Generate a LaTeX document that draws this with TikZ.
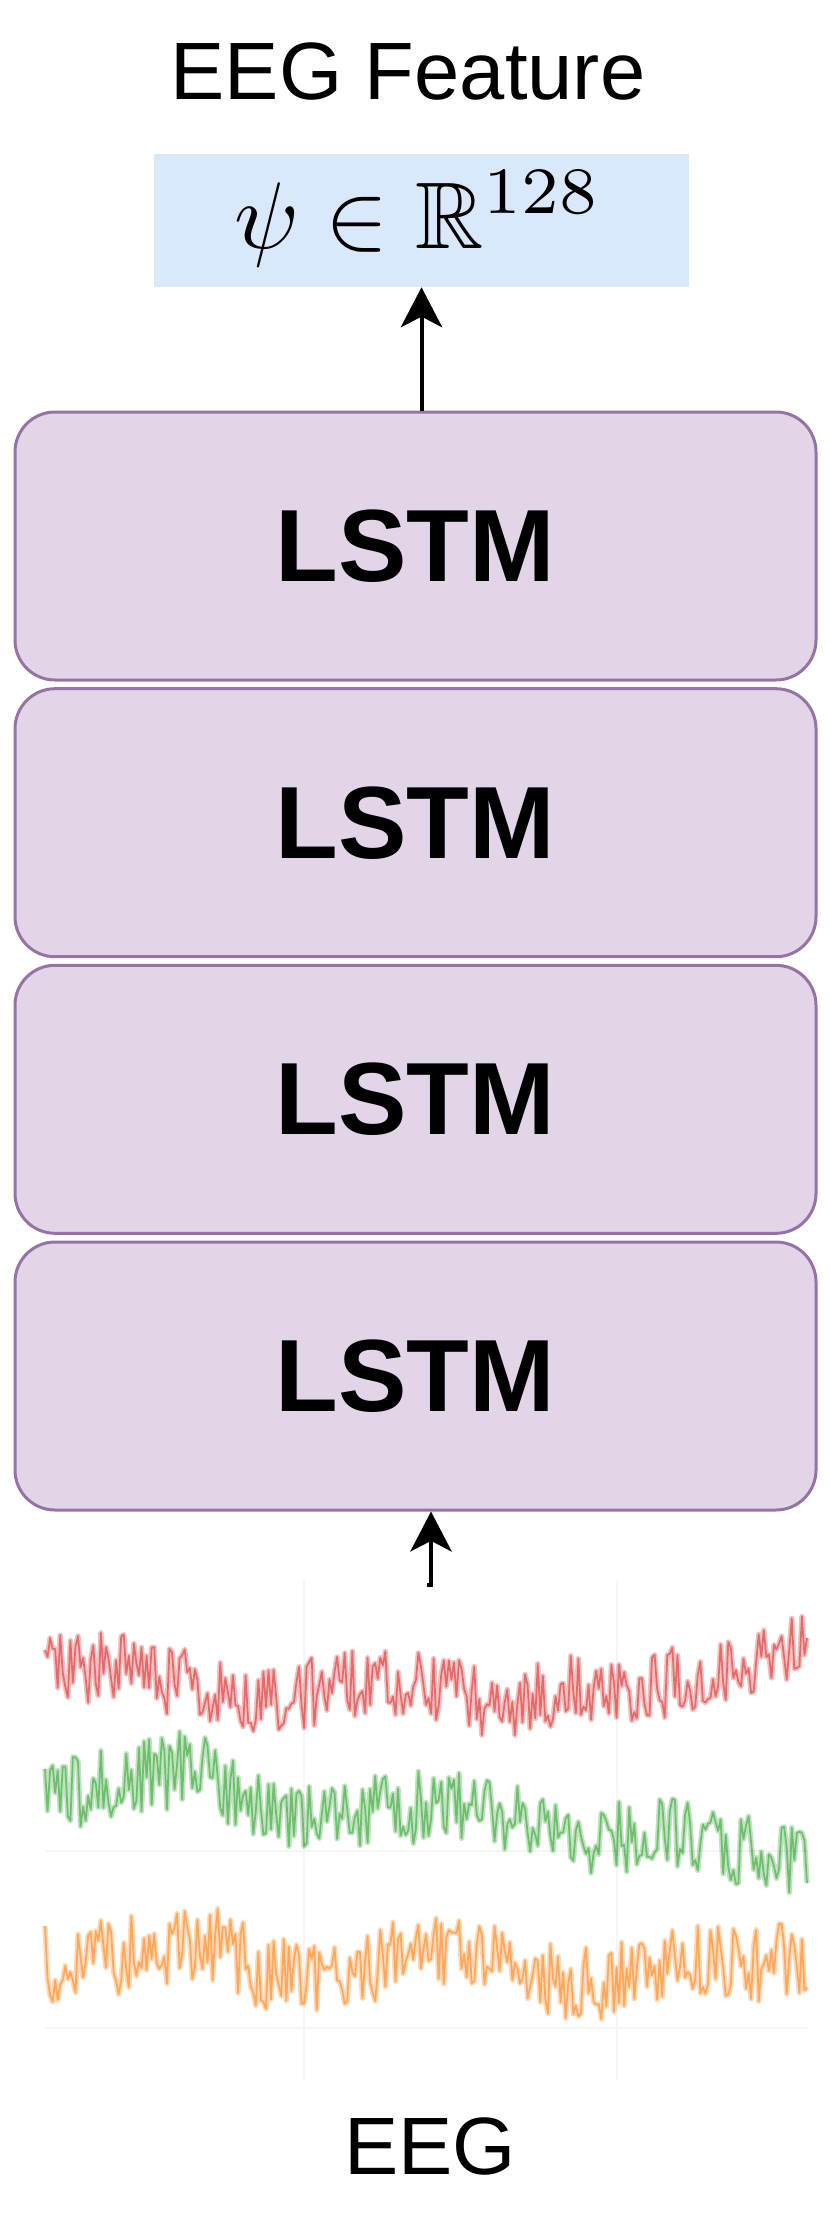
\documentclass[tikz,border=0pt]{standalone}
\usepackage{graphicx}
\usepackage{amssymb}
\usepackage[no-math]{fontspec}
\setmainfont{Liberation Sans}
\usetikzlibrary{arrows.meta}
\definecolor{lstmfill}{HTML}{E1D5E7}
\definecolor{lstmdraw}{HTML}{9673A6}
\definecolor{featfill}{HTML}{DAE8FC}
\definecolor{tabred}{HTML}{D62728}
\definecolor{tabgreen}{HTML}{2CA02C}
\definecolor{taborange}{HTML}{FF7F0E}
\tikzset{
  lstmbox/.style={draw=lstmdraw, fill=lstmfill, line width=2.25pt, rounded corners=30pt,
    minimum width=801*0.75pt, minimum height=268*0.75pt, inner sep=0pt,
    font=\fontsize{77}{90}\selectfont\bfseries},
  featbox/.style={fill=featfill, minimum width=535*0.75pt, minimum height=133*0.75pt, inner sep=0pt},
  lbl/.style={font=\fontsize{61}{70}\selectfont, inner sep=0pt, anchor=base},
  arr/.style={line width=3pt, -{Stealth[length=30pt, width=31pt, inset=8pt]}},
  tracewide/.style={line width=4pt, opacity=0.3, line join=round},
  tracecore/.style={line width=1.3pt, opacity=0.55, line join=round},
  gridln/.style={draw=black!4, line width=1.5pt}
}
\newcommand\eegwave[4]{% #1 style, #2 seed, #3 knots, #4 amplitude
  \pgfmathsetseed{#2}%
  \draw[#1] (45,{#4*rand+\csname eegstart\endcsname})
    \foreach \ya/\yb [count=\k from 0] in {#3} {
      \foreach \j in {1,...,30} { -- ({45+76.2*\k+2.54*\j},{\ya+(\yb-\ya)*\j/30+#4*rand}) }
    };
}
\begin{document}
\begin{tikzpicture}[x=0.75pt,y=-0.75pt]
\useasboundingbox (0,0) rectangle (830,2231);
% title
\node[lbl] (title) at (408,99) {EEG Feature};
% feature box
\node[featbox] (feat) at (421.5,220.5) {};
\node[inner sep=0pt, anchor=base] (featmath) at (418,248) {\scalebox{7.1}{$\psi \in \mathbb{R}^{128}$}};
% LSTM stack
\node[lstmbox] (lstm1) at (415.5,546) {LSTM};
\node[lstmbox] (lstm2) at (415.5,822.7) {LSTM};
\node[lstmbox] (lstm3) at (415.5,1099.3) {LSTM};
\node[lstmbox] (lstm4) at (415.5,1376) {LSTM};
% arrows
\draw[arr] (feat.south |- lstm1.north) -- (feat.south);
\coordinate (eegin) at (427,1585);
\coordinate (eegx) at (431,1585);
\draw[arr] (eegin) -- (eegx) -- (eegx |- lstm4.south);
% faint grid
\draw[gridln] (304,1580) -- (304,2080);
\draw[gridln] (617,1580) -- (617,2080);
\draw[gridln] (45,1851) -- (808,1851);
\draw[gridln] (45,2028) -- (808,2028);
% EEG traces
\def\eegstart{1668}
\eegwave{tracewide, draw=tabred}{101}{1668/1668,1668/1685,1685/1705,1705/1680,1680/1688,1688/1705,1705/1690,1690/1685,1685/1672,1672/1645}{36}
\eegwave{tracecore, draw=tabred}{101}{1668/1668,1668/1685,1685/1705,1705/1680,1680/1688,1688/1705,1705/1690,1690/1685,1685/1672,1672/1645}{36}
\def\eegstart{1797}
\eegwave{tracewide, draw=tabgreen}{202}{1797/1783,1783/1765,1765/1820,1820/1808,1808/1805,1805/1815,1815/1850,1850/1830,1830/1845,1845/1860}{38}
\eegwave{tracecore, draw=tabgreen}{202}{1797/1783,1783/1765,1765/1820,1820/1808,1808/1805,1805/1815,1815/1850,1850/1830,1830/1845,1845/1860}{38}
\def\eegstart{1965}
\eegwave{tracewide, draw=taborange}{303}{1965/1955,1955/1938,1938/1978,1978/1968,1968/1958,1958/1958,1958/1990,1990/1965,1965/1965,1965/1960}{40}
\eegwave{tracecore, draw=taborange}{303}{1965/1955,1955/1938,1938/1978,1978/1968,1968/1958,1958/1958,1958/1990,1990/1965,1965/1965,1965/1960}{40}
% bottom label
\node[lbl] (eeg) at (430,2174) {EEG};
\end{tikzpicture}
\end{document}
